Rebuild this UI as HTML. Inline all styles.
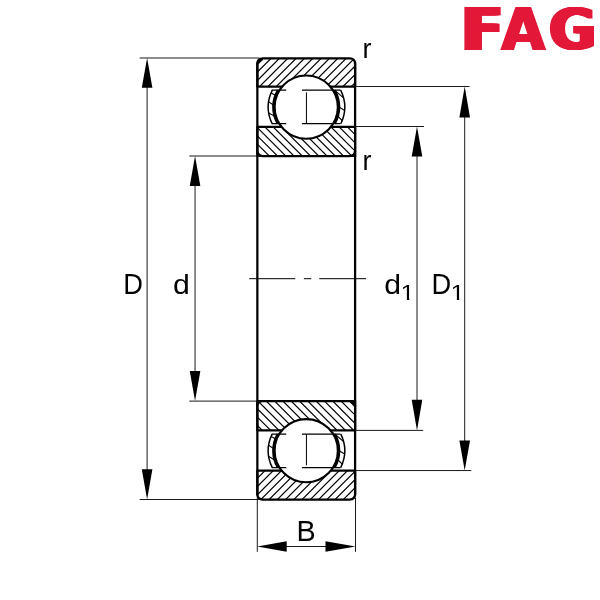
<!DOCTYPE html><html><head><meta charset="utf-8"><title>FAG bearing</title>
<style>html,body{margin:0;padding:0;background:#fff}body{width:600px;height:600px;overflow:hidden;position:relative}svg{display:block}.logo{position:absolute;left:0;top:0;margin:0;padding:0;white-space:nowrap;font-size:0;line-height:0}.lg{display:inline-block;vertical-align:top;width:0;position:relative;margin:0;padding:0;line-height:1;font-family:"DejaVu Sans","Liberation Sans",sans-serif;font-weight:bold;color:#e31838;transform-origin:0 0;white-space:nowrap}text{font-family:"Liberation Sans",Arial,Helvetica,sans-serif}</style></head><body>
<svg width="600" height="600" viewBox="0 0 600 600">
<rect width="600" height="600" fill="#fff"/>
<clipPath id="cot"><path d="M257.35,86.7 L257.35,63.85 Q257.35,58.35 262.85,58.35 L349.60,58.35 Q355.1,58.35 355.1,63.85 L355.1,86.7 Z"/></clipPath><clipPath id="cit"><path d="M257.35,126.9 L257.35,150.60 Q257.35,156.0 262.75,156.0 L349.70,156.0 Q355.1,156.0 355.1,150.60 L355.1,126.9 Z"/></clipPath>
<path clip-path="url(#cot)" d="M224.07,88.70L256.42,56.35M232.41,88.70L264.76,56.35M240.75,88.70L273.10,56.35M249.09,88.70L281.44,56.35M257.43,88.70L289.78,56.35M265.77,88.70L298.12,56.35M274.11,88.70L306.46,56.35M282.45,88.70L314.80,56.35M290.79,88.70L323.14,56.35M299.13,88.70L331.48,56.35M307.47,88.70L339.82,56.35M315.81,88.70L348.16,56.35M324.15,88.70L356.50,56.35M332.49,88.70L364.84,56.35M340.83,88.70L373.18,56.35M349.17,88.70L381.52,56.35M357.51,88.70L389.86,56.35" stroke="#000" stroke-width="1.2" fill="none"/>
<path clip-path="url(#cit)" d="M221.64,124.90L254.74,158.00M229.89,124.90L262.99,158.00M238.14,124.90L271.24,158.00M246.39,124.90L279.49,158.00M254.64,124.90L287.74,158.00M262.89,124.90L295.99,158.00M271.14,124.90L304.24,158.00M279.39,124.90L312.49,158.00M287.64,124.90L320.74,158.00M295.89,124.90L328.99,158.00M304.14,124.90L337.24,158.00M312.39,124.90L345.49,158.00M320.64,124.90L353.74,158.00M328.89,124.90L361.99,158.00M337.14,124.90L370.24,158.00M345.39,124.90L378.49,158.00M353.64,124.90L386.74,158.00" stroke="#000" stroke-width="1.2" fill="none"/>
<path d="M257.35,86.7 L257.35,63.85 Q257.35,58.35 262.85,58.35 L349.60,58.35 Q355.1,58.35 355.1,63.85 L355.1,86.7 Z" fill="none" stroke="#000" stroke-width="2.25" stroke-linejoin="round"/>
<path d="M257.35,126.9 L257.35,150.60 Q257.35,156.0 262.75,156.0 L349.70,156.0 Q355.1,156.0 355.1,150.60 L355.1,126.9 Z" fill="none" stroke="#000" stroke-width="2.25" stroke-linejoin="round"/>
<path d="M257.35,63.85 Q257.35,58.35 262.85,58.35 L262.85,59.95 L258.95,63.85Z" fill="#000"/>
<path d="M257.35,150.60 Q257.35,156.0 262.75,156.0 L262.75,157.12 L256.23,157.12 L256.23,150.60Z" fill="#000"/>
<path d="M355.1,150.60 Q355.1,156.0 349.70,156.0 L349.70,157.12 L356.23,157.12 L356.23,150.60Z" fill="#000"/>
<clipPath id="cgtl"><path d="M272.35,90.10 A37.9,37.9 0 0 0 272.11,123.60 L306.23,123.60 L306.23,90.10Z"/></clipPath>
<path d="M272.35,90.10 A37.9,37.9 0 0 0 272.11,123.60" fill="#fff" stroke="none"/>
<path clip-path="url(#cgtl)" d="M267.10,90.58L279.10,97.42M264.80,99.18L276.80,107.22M265.10,111.00L277.10,117.60" stroke="#000" stroke-width="1.1" fill="none"/>
<path d="M272.35,90.10 A37.9,37.9 0 0 0 272.11,123.60" fill="none" stroke="#000" stroke-width="1.5"/>
<path d="M277.94,90.10 A33.0,33.0 0 0 0 277.65,123.60" fill="none" stroke="#000" stroke-width="2.2"/>
<clipPath id="cgtr"><path d="M340.66,90.10 A38.4,38.4 0 0 1 340.90,123.60 L306.23,123.60 L306.23,90.10Z"/></clipPath>
<path d="M340.66,90.10 A38.4,38.4 0 0 1 340.90,123.60" fill="#fff" stroke="none"/>
<path clip-path="url(#cgtr)" d="M333.80,89.60L345.80,99.80M336.00,105.32L348.00,112.28M334.00,112.30L346.00,124.30" stroke="#000" stroke-width="1.1" fill="none"/>
<path d="M340.66,90.10 A38.4,38.4 0 0 1 340.90,123.60" fill="none" stroke="#000" stroke-width="1.5"/>
<path d="M334.51,90.10 A33.0,33.0 0 0 1 334.80,123.60" fill="none" stroke="#000" stroke-width="2.2"/>
<ellipse cx="306.23" cy="107.10" rx="31.6" ry="31.6" fill="#fff" stroke="#000" stroke-width="2.1"/>
<path d="M271.83,90.10H286.23M301.93,90.10H340.62" stroke="#000" stroke-width="1.15" fill="none"/>
<path d="M271.83,123.60H286.23M301.93,123.60H340.62" stroke="#000" stroke-width="1.15" fill="none"/>
<path d="M306.43,92.40V123.60" stroke="#000" stroke-width="1" fill="none"/>
<clipPath id="cob"><path d="M257.35,470.55 L257.35,494.00 Q257.35,499.5 262.85,499.5 L349.60,499.5 Q355.1,499.5 355.1,494.00 L355.1,470.55 Z"/></clipPath><clipPath id="cib"><path d="M257.35,430.4 L257.35,406.50 Q257.35,401.1 262.75,401.1 L349.70,401.1 Q355.1,401.1 355.1,406.50 L355.1,430.4 Z"/></clipPath>
<path clip-path="url(#cob)" d="M225.89,501.50L258.84,468.55M234.14,501.50L267.09,468.55M242.39,501.50L275.34,468.55M250.64,501.50L283.59,468.55M258.89,501.50L291.84,468.55M267.14,501.50L300.09,468.55M275.39,501.50L308.34,468.55M283.64,501.50L316.59,468.55M291.89,501.50L324.84,468.55M300.14,501.50L333.09,468.55M308.39,501.50L341.34,468.55M316.64,501.50L349.59,468.55M324.89,501.50L357.84,468.55M333.14,501.50L366.09,468.55M341.39,501.50L374.34,468.55M349.64,501.50L382.59,468.55M357.89,501.50L390.84,468.55" stroke="#000" stroke-width="1.2" fill="none"/>
<path clip-path="url(#cib)" d="M222.75,399.10L256.05,432.40M231.06,399.10L264.36,432.40M239.37,399.10L272.67,432.40M247.68,399.10L280.98,432.40M255.99,399.10L289.29,432.40M264.30,399.10L297.60,432.40M272.61,399.10L305.91,432.40M280.92,399.10L314.22,432.40M289.23,399.10L322.53,432.40M297.54,399.10L330.84,432.40M305.85,399.10L339.15,432.40M314.16,399.10L347.46,432.40M322.47,399.10L355.77,432.40M330.78,399.10L364.08,432.40M339.09,399.10L372.39,432.40M347.40,399.10L380.70,432.40M355.71,399.10L389.01,432.40" stroke="#000" stroke-width="1.2" fill="none"/>
<path d="M257.35,470.55 L257.35,494.00 Q257.35,499.5 262.85,499.5 L349.60,499.5 Q355.1,499.5 355.1,494.00 L355.1,470.55 Z" fill="none" stroke="#000" stroke-width="2.25" stroke-linejoin="round"/>
<path d="M257.35,430.4 L257.35,406.50 Q257.35,401.1 262.75,401.1 L349.70,401.1 Q355.1,401.1 355.1,406.50 L355.1,430.4 Z" fill="none" stroke="#000" stroke-width="2.25" stroke-linejoin="round"/>
<path d="M257.35,406.50 Q257.35,401.1 262.75,401.1 L262.75,399.98 L256.23,399.98 L256.23,406.50Z" fill="#000"/>
<path d="M355.1,406.50 Q355.1,401.1 349.70,401.1 L349.70,399.98 L356.23,399.98 L356.23,406.50Z" fill="#000"/>
<path d="M355.1,406.50 L355.1,401.1 L349.70,401.1 Z" fill="#000"/>
<clipPath id="cgbl"><path d="M272.30,467.60 A37.9,37.9 0 0 1 272.15,434.10 L306.23,434.10 L306.23,467.60Z"/></clipPath>
<path d="M272.30,467.60 A37.9,37.9 0 0 1 272.15,434.10" fill="#fff" stroke="none"/>
<path clip-path="url(#cgbl)" d="M267.10,434.18L279.10,441.02M264.80,442.78L276.80,450.82M265.10,454.60L277.10,461.20" stroke="#000" stroke-width="1.1" fill="none"/>
<path d="M272.30,467.60 A37.9,37.9 0 0 1 272.15,434.10" fill="none" stroke="#000" stroke-width="1.5"/>
<path d="M277.88,467.60 A33.0,33.0 0 0 1 277.70,434.10" fill="none" stroke="#000" stroke-width="2.2"/>
<clipPath id="cgbr"><path d="M340.71,467.60 A38.4,38.4 0 0 0 340.85,434.10 L306.23,434.10 L306.23,467.60Z"/></clipPath>
<path d="M340.71,467.60 A38.4,38.4 0 0 0 340.85,434.10" fill="#fff" stroke="none"/>
<path clip-path="url(#cgbr)" d="M333.80,433.20L345.80,443.40M336.00,448.92L348.00,455.88M334.00,455.90L346.00,467.90" stroke="#000" stroke-width="1.1" fill="none"/>
<path d="M340.71,467.60 A38.4,38.4 0 0 0 340.85,434.10" fill="none" stroke="#000" stroke-width="1.5"/>
<path d="M334.57,467.60 A33.0,33.0 0 0 0 334.75,434.10" fill="none" stroke="#000" stroke-width="2.2"/>
<ellipse cx="306.23" cy="450.70" rx="31.6" ry="31.6" fill="#fff" stroke="#000" stroke-width="2.1"/>
<path d="M271.83,467.60H286.23M301.93,467.60H340.62" stroke="#000" stroke-width="1.15" fill="none"/>
<path d="M271.83,434.10H286.23M301.93,434.10H340.62" stroke="#000" stroke-width="1.15" fill="none"/>
<path d="M306.43,465.30V434.10" stroke="#000" stroke-width="1" fill="none"/>
<path d="M257.35,62.35V495.5M355.1,62.35V495.5" stroke="#000" stroke-width="2.25" fill="none"/>
<path d="M249.2,278.7H295.3M303.9,278.7H311.3M319.3,278.7H366" stroke="#000" stroke-width="1" fill="none"/>
<path d="M259.35,58.0H139.7M259.35,499.5H139.7M147.1,68.0V489.5" stroke="#1a1a1a" stroke-width="1" fill="none"/>
<path d="M147.1,58.0l-5.3,29.8h10.6zM147.1,499.5l-5.3,-30.3h10.6z" fill="#000"/>
<path d="M259.35,156.0H189.3M259.35,401.1H189.3M195.05,166.0V391.1" stroke="#1a1a1a" stroke-width="1" fill="none"/>
<path d="M195.05,156.0l-5.3,30h10.6zM195.05,401.1l-5.3,-30h10.6z" fill="#000"/>
<path d="M355.1,126.5H424M355.1,430.4H423.2M417.0,136.5V420.4" stroke="#1a1a1a" stroke-width="1" fill="none"/>
<path d="M417.0,126.5l-5.3,30h10.6zM417.0,430.4l-5.3,-30.6h10.6z" fill="#000"/>
<path d="M355.1,86.5H469.4M355.1,470.55H471.3M464.7,96.5V460.55" stroke="#1a1a1a" stroke-width="1" fill="none"/>
<path d="M464.7,86.5l-5.3,31h10.6zM464.7,470.55l-5.3,-30h10.6z" fill="#000"/>
<path d="M257.3,497.5V551.8M355.5,497.5V551.8M267.3,546.5H345.5" stroke="#1a1a1a" stroke-width="1" fill="none"/>
<path d="M257.3,546.5l29.4,-5.3v10.6zM355.5,546.5l-30,-5.3v10.6z" fill="#000"/>
<g opacity="0.995">
<text transform="translate(123.20,294.00) scale(0.93,1)" font-size="29.3" fill="#000">D</text>
<text transform="translate(173.00,294.00) scale(1.065,1)" font-size="28.4" fill="#000">d</text>
<text fill="#000"><tspan x="384.30" y="294.00" font-size="28.4" textLength="16.82" lengthAdjust="spacingAndGlyphs">d</tspan><tspan x="400.56" y="299.50" font-size="22.6" textLength="14.08" lengthAdjust="spacingAndGlyphs">1</tspan></text>
<text fill="#000"><tspan x="431.46" y="294.00" font-size="29.3" textLength="19.68" lengthAdjust="spacingAndGlyphs">D</tspan><tspan x="450.56" y="299.50" font-size="22.6" textLength="14.08" lengthAdjust="spacingAndGlyphs">1</tspan></text>
<text transform="translate(296.44,541.00) scale(0.98,1)" font-size="29.3" fill="#000">B</text>
<text transform="translate(362.61,58.00) scale(1.0,1)" font-size="26.9" fill="#000">r</text>
<text transform="translate(362.61,170.00) scale(1.0,1)" font-size="26.9" fill="#000">r</text>
</g>
<path d="M401.89,297.55H406.83V300.10H401.89ZM409.26,297.55H414.00V300.10H409.26Z" fill="#fff"/>
<path d="M451.89,297.55H456.83V300.10H451.89ZM459.26,297.55H464.00V300.10H459.26Z" fill="#fff"/>
</svg>
<div class="logo"><span class="lg" style="left:459.00px;top:0.56px;font-size:58.8px;transform:scaleX(1.0);text-shadow:0.93px 0.00px 0 #e31838,1.86px 0.00px 0 #e31838,2.79px 0.00px 0 #e31838,3.71px 0.00px 0 #e31838,4.64px 0.00px 0 #e31838,5.57px 0.00px 0 #e31838,6.50px 0.00px 0 #e31838">F</span><span class="lg" style="left:499.93px;top:0.72px;font-size:58.6px;transform:scaleX(0.959);text-shadow:0.76px 0.00px 0 #e31838,1.51px 0.00px 0 #e31838,2.27px 0.00px 0 #e31838,3.02px 0.00px 0 #e31838">A</span><span class="lg" style="left:547.44px;top:1.78px;font-size:57.0px;transform:scaleX(1.01);text-shadow:0.99px 0.00px 0 #e31838,1.98px 0.00px 0 #e31838,2.97px 0.00px 0 #e31838,3.96px 0.00px 0 #e31838">G</span></div>
</body></html>
